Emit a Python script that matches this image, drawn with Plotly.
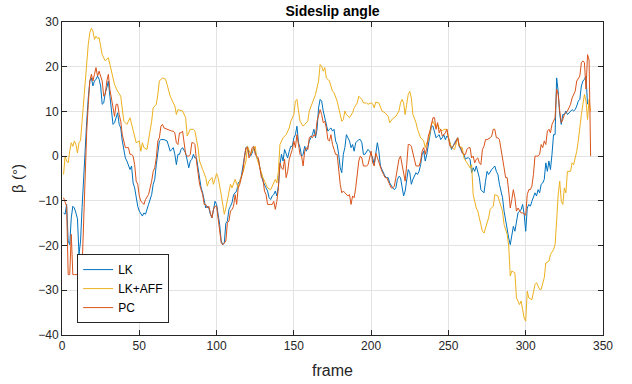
import plotly.graph_objects as go

# ---------------- data ----------------
lk_aff_frames = [
    1, 2, 3, 4, 5, 6, 7, 8, 9, 10,
    11, 12, 13, 14, 15, 16, 17, 18, 19, 20,
    21, 22, 23, 24, 25, 26, 28, 30, 31, 32,
    34, 36, 38, 40, 42, 44, 46, 48, 50, 51,
    52, 53, 55, 56, 58, 59, 61, 62, 63, 65,
    67, 68, 70, 72, 73, 74, 75, 78, 80, 81,
    83, 85, 86, 88, 89, 91, 93, 94, 95, 97,
    98, 100, 101, 103, 105, 106, 108, 109, 110, 112,
    114, 115, 117, 119, 120, 122, 123, 125, 126, 128,
    130, 132, 133, 135, 137, 138, 139, 140, 141, 143,
    145, 147, 148, 150, 151, 152, 153, 154, 156, 157,
    159, 160, 162, 164, 166, 167, 168, 169, 170, 171,
    173, 175, 176, 178, 179, 181, 182, 183, 184, 186,
    188, 189, 191, 192, 194, 195, 197, 198, 200, 201,
    202, 203, 205, 207, 209, 211, 212, 214, 216, 218,
    219, 220, 221, 222, 223, 224, 225, 226, 227, 229,
    230, 231, 232, 234, 235, 236, 237, 238, 239, 240,
    242, 243, 244, 246, 247, 249, 250, 252, 254, 256,
    257, 259, 260, 262, 264, 265, 266, 268, 269, 270,
    272, 273, 274, 276, 277, 279, 280, 282, 283, 285,
    286, 288, 289, 290, 291, 293, 294, 296, 297, 298,
    299, 300, 301, 302, 304, 306, 307, 309, 310, 312,
    313, 315, 316, 318, 319, 320, 321, 322, 323, 324,
    325, 326, 327, 329, 330, 331, 333, 334, 335, 336,
    337, 338, 339, 340, 341, 342,
]
lk_aff_values = [
    -4.1, 0.0, -1.1, -1.5, 1.1, 3.0, 2.2, 3.4, 2.6, 0.7,
    3.0, 3.5, 7.8, 12.3, 16.8, 21.3, 25.0, 27.6, 28.6, 28.0,
    26.1, 26.8, 26.3, 26.5, 24.6, 22.7, 21.3, 22.0, 20.5, 19.0,
    16.0, 14.5, 13.4, 7.8, 7.1, 8.6, 6.0, 3.0, 3.4, 1.1,
    3.0, 1.9, 1.5, 3.4, 7.8, 10.8, 11.6, 13.8, 16.8, 17.5,
    17.2, 16.0, 13.4, 11.9, 11.2, 9.3, 10.4, 10.1, 8.6, 4.5,
    6.0, 6.0, 5.6, 1.9, -1.1, -3.0, -4.8, -6.7, -5.6, -4.8,
    -6.3, -3.9, -4.8, -8.6, -13.0, -11.6, -7.8, -6.3, -7.1, -5.2,
    -7.1, -5.6, -3.7, -1.1, 2.2, 0.4, 1.1, 2.2, -0.4, -2.6,
    -4.8, -6.3, -7.1, -7.5, -6.0, -5.2, -6.0, -3.4, 2.6, 4.1,
    4.8, 6.3, 7.8, 9.3, 12.3, 12.7, 10.1, 7.8, 6.7, 7.1,
    7.8, 10.1, 11.9, 13.8, 16.8, 20.5, 20.1, 19.0, 19.8, 17.5,
    16.8, 14.5, 14.2, 12.3, 10.8, 7.8, 8.2, 10.1, 9.3, 8.6,
    9.7, 10.8, 11.9, 13.4, 12.7, 11.9, 11.9, 11.6, 11.9, 11.7,
    10.8, 12.1, 11.9, 10.1, 9.7, 8.9, 7.5, 8.4, 8.9, 10.1,
    11.9, 12.7, 11.9, 9.3, 11.6, 13.8, 14.5, 13.0, 9.3, 7.5,
    6.0, 4.8, 4.1, 3.4, 1.9, 3.0, 3.4, 5.2, 7.1, 7.8,
    6.3, 7.1, 6.3, 5.6, 6.0, 6.0, 4.1, 1.9, 1.5, 4.1,
    2.2, 1.9, -0.4, -1.5, -2.6, -1.9, -8.6, -11.6, -12.3, -13.8,
    -16.8, -17.2, -16.0, -13.8, -11.9, -11.2, -8.6, -8.9, -10.1, -12.3,
    -15.3, -17.5, -20.1, -26.8, -25.7, -26.1, -31.7, -33.2, -32.4, -34.7,
    -36.2, -36.9, -30.2, -31.7, -32.1, -28.7, -28.3, -29.8, -29.8, -27.2,
    -23.9, -23.5, -22.0, -20.9, -19.8, -14.5, -8.6, -5.6, -10.1, -10.8,
    -7.1, -8.2, -3.4, -3.4, -1.5, -1.9, 1.1, 3.4, 7.1, 9.3,
    11.6, 13.8, 12.3, 8.2, 12.7, 10.0,
]

lk_frames = [
    1, 2, 3, 4, 5, 6, 7, 8, 9, 10,
    11, 12, 13, 14, 15, 16, 17, 18, 19, 20,
    21, 22, 23, 24, 25, 26, 27, 28, 29, 30,
    31, 32, 33, 34, 35, 36, 37, 38, 39, 40,
    41, 42, 43, 44, 45, 46, 47, 48, 49, 50,
    51, 52, 53, 54, 56, 58, 59, 60, 61, 62,
    63, 64, 66, 68, 69, 70, 71, 72, 73, 74,
    75, 76, 77, 78, 80, 81, 82, 83, 84, 85,
    86, 87, 88, 89, 90, 91, 92, 93, 94, 95,
    96, 97, 98, 99, 100, 101, 102, 103, 104, 105,
    106, 107, 108, 109, 110, 111, 113, 114, 115, 116,
    117, 118, 119, 120, 121, 122, 123, 124, 125, 126,
    127, 128, 129, 130, 132, 133, 134, 135, 136, 137,
    138, 139, 140, 141, 142, 143, 144, 145, 146, 147,
    148, 149, 150, 151, 152, 153, 154, 155, 156, 157,
    158, 159, 160, 161, 162, 163, 164, 165, 166, 167,
    168, 169, 170, 171, 172, 173, 174, 175, 176, 177,
    178, 179, 180, 181, 182, 183, 184, 185, 186, 187,
    188, 189, 190, 192, 193, 194, 195, 196, 197, 198,
    199, 200, 201, 202, 203, 204, 205, 206, 207, 208,
    209, 210, 211, 212, 213, 214, 215, 216, 217, 218,
    219, 220, 221, 222, 223, 224, 225, 226, 227, 228,
    229, 230, 231, 232, 233, 234, 235, 236, 237, 238,
    239, 240, 241, 242, 243, 244, 245, 246, 247, 248,
    249, 250, 251, 252, 253, 254, 256, 257, 258, 259,
    260, 261, 262, 263, 264, 265, 266, 267, 268, 270,
    271, 272, 273, 274, 275, 276, 277, 278, 279, 280,
    281, 282, 283, 284, 285, 286, 287, 288, 289, 290,
    291, 292, 293, 294, 295, 296, 297, 298, 299, 300,
    301, 302, 303, 304, 305, 306, 307, 308, 309, 310,
    311, 312, 313, 314, 315, 316, 317, 318, 319, 320,
    321, 322, 323, 324, 325, 326, 327, 328, 329, 330,
    331, 332, 333, 334, 335, 336, 337, 338, 339, 340,
]
lk_values = [
    -12.7, -13.0, -10.8, -19.0, -19.8, -13.8, -11.2, -11.6, -12.7, -14.0,
    -22.0, -19.0, -11.5, -4.1, 1.9, 7.8, 13.0, 16.8, 17.5, 15.7,
    16.8, 17.2, 17.9, 17.2, 15.7, 11.6, 11.9, 14.2, 15.3, 16.8,
    13.4, 10.1, 7.1, 7.5, 8.9, 9.7, 7.1, 6.3, 3.4, 1.5,
    -0.4, -1.1, -2.2, -3.0, -2.2, -6.0, -7.1, -9.3, -11.2, -12.3,
    -13.0, -13.4, -12.7, -13.0, -10.8, -8.6, -6.3, -5.2, -1.9, 0.4,
    3.4, 3.7, 3.7, 3.4, 1.9, 1.1, 1.5, 1.9, 0.4, -1.9,
    0.4, 0.4, 1.5, 1.9, 0.7, -1.1, -2.6, -1.1, -0.7, 0.4,
    -0.4, -0.4, -2.6, -5.2, -7.1, -8.2, -10.1, -11.6, -11.2, -11.6,
    -13.0, -13.8, -12.0, -10.1, -10.8, -13.0, -15.3, -19.0, -19.8, -19.4,
    -15.0, -14.5, -11.9, -11.2, -10.4, -8.6, -7.8, -6.0, -5.6, -4.5,
    -2.6, -0.4, 1.9, 2.2, 0.4, 0.0, 0.7, 1.9, 1.1, -0.4,
    -0.7, -2.6, -4.1, -5.6, -7.1, -7.8, -9.3, -9.7, -8.9, -8.6,
    -7.8, -8.9, -6.7, -1.9, 0.4, -1.1, 1.5, 0.4, -0.4, 1.1,
    2.2, 2.2, 4.1, 4.8, 6.7, 3.0, 1.9, 0.0, 0.4, 2.2,
    1.1, 1.9, 3.4, 4.1, 4.8, 6.0, 4.1, 6.0, 10.8, 12.7,
    12.3, 10.1, 8.6, 7.8, 5.6, 6.0, 6.3, 5.6, 6.0, 3.4,
    2.6, 0.4, -2.6, -3.7, 0.4, 1.9, 4.8, 4.1, 3.4, 1.9,
    2.6, 1.1, 3.0, 3.7, 3.7, 3.0, 0.4, 0.4, 1.1, 1.5,
    1.1, 0.4, -0.4, -1.9, 0.4, 3.0, 1.1, -2.2, -3.0, -3.7,
    -4.5, -4.8, -4.8, -6.0, -6.7, -7.1, -7.5, -7.1, -5.2, -4.5,
    -4.8, -7.1, -8.9, -7.8, -4.8, -3.0, -3.7, -6.3, -5.2, -4.5,
    -3.7, -4.1, -3.4, -1.9, 0.4, 1.1, -1.1, 0.4, 2.6, 4.8,
    6.7, 6.7, 5.6, 4.1, 4.5, 4.8, 3.7, 4.1, 4.8, 3.7,
    4.5, 4.1, 3.0, 1.5, 2.2, 3.0, 4.1, 2.2, 1.5, 0.7,
    0.4, -0.7, -0.4, -0.4, -0.7, -3.7, -2.6, -3.4, -2.2, -4.8,
    -7.5, -7.8, -8.2, -5.6, -3.4, -4.1, -3.4, -3.0, -2.6, -2.2,
    -3.4, -4.1, -6.3, -7.5, -9.3, -12.3, -14.5, -16.8, -18.3, -19.8,
    -17.5, -15.7, -16.8, -14.2, -12.7, -12.3, -12.0, -10.8, -13.0, -16.8,
    -11.6, -10.8, -11.2, -10.1, -8.9, -8.2, -8.9, -7.5, -8.2, -6.3,
    -6.0, -5.2, -1.5, -3.4, -1.1, -3.0, 0.4, 4.8, 4.8, 17.5,
    14.5, 9.3, 7.1, 9.3, 9.3, 10.1, 9.3, 9.7, 10.1, 10.4,
    10.1, 10.4, 11.2, 12.3, 12.7, 15.7, 16.8, 17.2, 17.9, 11.6,
]

pc_frames = [
    1, 2, 3, 4, 5, 6, 7, 8, 9, 10,
    11, 12, 13, 14, 15, 16, 17, 18, 19, 20,
    21, 22, 23, 24, 25, 26, 27, 28, 29, 30,
    31, 32, 33, 34, 35, 36, 37, 38, 39, 40,
    41, 42, 43, 44, 45, 46, 47, 48, 49, 50,
    51, 52, 53, 54, 56, 58, 59, 60, 61, 62,
    63, 64, 65, 66, 68, 69, 71, 72, 73, 74,
    75, 76, 77, 78, 79, 80, 81, 82, 83, 84,
    85, 86, 87, 88, 89, 90, 91, 92, 93, 94,
    95, 96, 97, 98, 99, 100, 101, 102, 103, 104,
    105, 106, 107, 108, 109, 110, 111, 112, 113, 114,
    115, 117, 118, 119, 120, 121, 122, 123, 124, 125,
    127, 128, 129, 130, 131, 132, 133, 135, 136, 137,
    138, 139, 140, 141, 142, 143, 144, 145, 146, 147,
    148, 149, 150, 151, 152, 153, 154, 155, 156, 157,
    158, 159, 160, 161, 162, 163, 164, 165, 166, 167,
    168, 169, 170, 171, 172, 173, 174, 175, 176, 177,
    178, 179, 180, 181, 182, 183, 184, 185, 186, 187,
    188, 189, 190, 191, 192, 193, 194, 195, 196, 197,
    198, 199, 200, 201, 202, 203, 204, 205, 206, 207,
    208, 209, 210, 211, 212, 213, 214, 215, 216, 217,
    218, 219, 220, 221, 222, 223, 224, 225, 226, 227,
    228, 229, 230, 231, 232, 233, 234, 235, 236, 237,
    238, 239, 240, 241, 242, 243, 244, 245, 246, 247,
    248, 249, 250, 251, 252, 253, 254, 256, 257, 258,
    259, 260, 261, 262, 263, 264, 265, 266, 267, 268,
    269, 270, 271, 272, 273, 274, 275, 277, 278, 279,
    280, 281, 282, 283, 284, 285, 286, 287, 288, 289,
    290, 291, 292, 293, 294, 295, 296, 297, 298, 299,
    300, 301, 302, 303, 304, 305, 306, 307, 308, 309,
    310, 311, 312, 313, 314, 315, 316, 317, 318, 319,
    320, 321, 322, 323, 324, 325, 326, 327, 328, 329,
    330, 331, 332, 333, 334, 335, 336, 337, 338, 339,
    340, 341, 342,
]
pc_values = [
    -9.3, -10.1, -11.2, -26.5, -26.5, -17.5, -26.5, -26.5, -26.5, -26.5,
    -26.5, -26.5, -25.0, -13.0, -4.1, 5.6, 11.6, 16.8, 18.3, 16.8,
    18.3, 19.8, 17.9, 19.0, 17.9, 16.8, 13.4, 13.8, 16.8, 18.3,
    14.9, 12.7, 10.1, 8.9, 11.6, 11.6, 9.3, 7.8, 4.8, 3.4,
    1.9, 1.9, 1.9, 0.4, 0.4, 0.0, -1.9, -5.6, -6.3, -8.9,
    -10.1, -10.4, -10.8, -9.7, -8.6, -5.6, -3.4, -2.6, -0.4, 3.4,
    4.1, 6.7, 7.1, 6.3, 6.0, 6.0, 5.6, 5.6, 5.2, 3.0,
    2.6, 5.2, 5.2, 5.6, 3.0, 0.4, 0.0, 0.0, 0.4, 3.0,
    3.0, 2.6, -1.1, -4.1, -6.3, -7.5, -8.6, -10.8, -10.8, -11.6,
    -11.2, -12.7, -13.8, -11.9, -11.2, -11.2, -13.8, -16.0, -19.4, -19.8,
    -19.5, -19.0, -14.9, -14.5, -12.3, -11.9, -11.2, -8.6, -10.8, -7.1,
    -6.3, -3.4, -0.4, 1.9, 1.9, -0.4, 0.4, 1.9, 2.2, 0.4,
    -0.4, -3.0, -4.8, -5.2, -7.8, -8.6, -10.8, -10.8, -10.8, -10.1,
    -11.9, -10.1, -7.1, -1.5, -2.6, -3.0, -0.7, -4.8, -3.4, -0.7,
    0.4, 1.5, 3.4, 1.9, 4.8, 1.9, 0.4, 0.0, -2.2, 1.1,
    1.9, 1.5, 4.1, 4.5, 4.1, 4.8, 4.5, 7.8, 9.3, 10.4,
    9.3, 7.5, 7.8, 6.3, 3.7, 3.4, 4.8, 2.6, 1.5, 0.4,
    0.4, -3.4, -6.3, -8.2, -7.8, -8.2, -8.6, -8.9, -8.6, -10.8,
    -8.9, -9.3, -7.1, -3.4, -1.1, 0.0, -0.4, -2.2, -2.2, -2.2,
    -1.9, -0.4, 1.1, -1.5, -2.2, 0.7, -0.4, -1.1, -2.6, -3.4,
    -4.1, -4.8, -4.8, -5.6, -6.3, -7.1, -7.1, -6.7, -4.8, -2.6,
    -0.7, 0.0, -1.9, -4.1, -5.6, -1.9, 2.6, 2.6, 2.2, 0.7,
    -0.7, -2.2, -2.2, -2.2, -1.1, 1.1, 1.9, 0.4, 1.9, 4.5,
    5.6, 7.1, 8.6, 8.6, 6.0, 7.5, 5.2, 6.0, 4.5, 4.8,
    5.2, 6.0, 4.1, 2.2, 1.9, 2.2, 2.6, 4.1, 2.2, 1.9,
    0.7, 0.4, 0.4, 1.5, 1.9, 1.9, -0.4, 0.0, -1.5, -0.7,
    -0.4, -1.5, -1.9, 1.5, 2.2, 3.7, 3.7, 4.1, 4.5, 6.0,
    6.0, 4.1, 4.1, 3.7, 1.9, -0.4, -2.6, -4.8, -4.8, -7.8,
    -11.6, -9.7, -7.5, -9.3, -12.3, -11.6, -12.3, -12.7, -12.7, -13.0,
    -13.2, -8.6, -7.5, -7.5, -6.7, -4.1, 0.0, 0.0, 0.0, 0.4,
    2.6, 1.9, 3.4, 2.6, 5.6, 6.0, 5.2, 7.1, 7.8, 8.6,
    15.0, 13.8, 10.1, 7.5, 8.2, 9.3, 9.7, 10.1, 10.8, 11.6,
    13.0, 13.8, 14.5, 16.8, 17.5, 17.9, 20.9, 21.3, 20.9, 15.0,
    22.7, 21.5, 0.0,
]

x_ticks = [0, 50, 100, 150, 200, 250, 300, 350]
y_ticks = [-40, -30, -20, -10, 0, 10, 20, 30]

series_names = ["LK", "LK+AFF", "PC"]
series_colors = ["#0072BD", "#EDB120", "#D95319"]

assert len(lk_aff_frames) == len(lk_aff_values)
assert len(lk_frames) == len(lk_values)
assert len(pc_frames) == len(pc_values)

# ---------------- figure ----------------
FONT = "Liberation Sans, Arial, Helvetica, sans-serif"
AX = "#262626"

fig = go.Figure()
for name, fr, vals, col in [
    (series_names[0], lk_frames, lk_values, series_colors[0]),
    (series_names[1], lk_aff_frames, lk_aff_values, series_colors[1]),
    (series_names[2], pc_frames, pc_values, series_colors[2]),
]:
    fig.add_trace(go.Scatter(x=fr, y=vals, mode="lines", name=name,
                             line=dict(color=col, width=1)))

axis_common = dict(
    showline=True, linecolor=AX, linewidth=1, mirror="allticks",
    ticks="inside", ticklen=5, tickcolor=AX, tickwidth=1,
    showgrid=True, gridcolor="#e3e3e3", gridwidth=1, zeroline=False,
    tickfont=dict(family=FONT, size=12, color=AX),
    automargin=False,
)

fig.update_layout(
    width=632, height=384,
    margin=dict(l=62, r=29, t=22, b=49, autoexpand=False),
    paper_bgcolor="white", plot_bgcolor="white",
    font=dict(family=FONT, color=AX),
    title=dict(text="<b>Sideslip angle</b>", x=0.5, xref="paper",
               y=1 - 11 / 384, yref="container", yanchor="middle",
               font=dict(family=FONT, size=14, color="#000000")),
    xaxis=dict(range=[0, 350], tickvals=x_ticks,
               title=dict(text="frame", font=dict(family=FONT, size=16, color=AX), standoff=12),
               **axis_common),
    yaxis=dict(range=[-40, 30], tickvals=y_ticks,
               title=dict(text="β (°)", font=dict(family=FONT, size=15, color=AX), standoff=10),
               **axis_common),
    legend=dict(x=0.028, y=0.038, xanchor="left", yanchor="bottom",
                bgcolor="white", bordercolor=AX, borderwidth=1,
                font=dict(family=FONT, size=12, color="#000000"),
                tracegroupgap=0, itemwidth=30),
    showlegend=True,
)

fig.write_html("out.html", config={"displayModeBar": False},
               post_script="document.body.style.margin='0';document.body.style.padding='0';")
